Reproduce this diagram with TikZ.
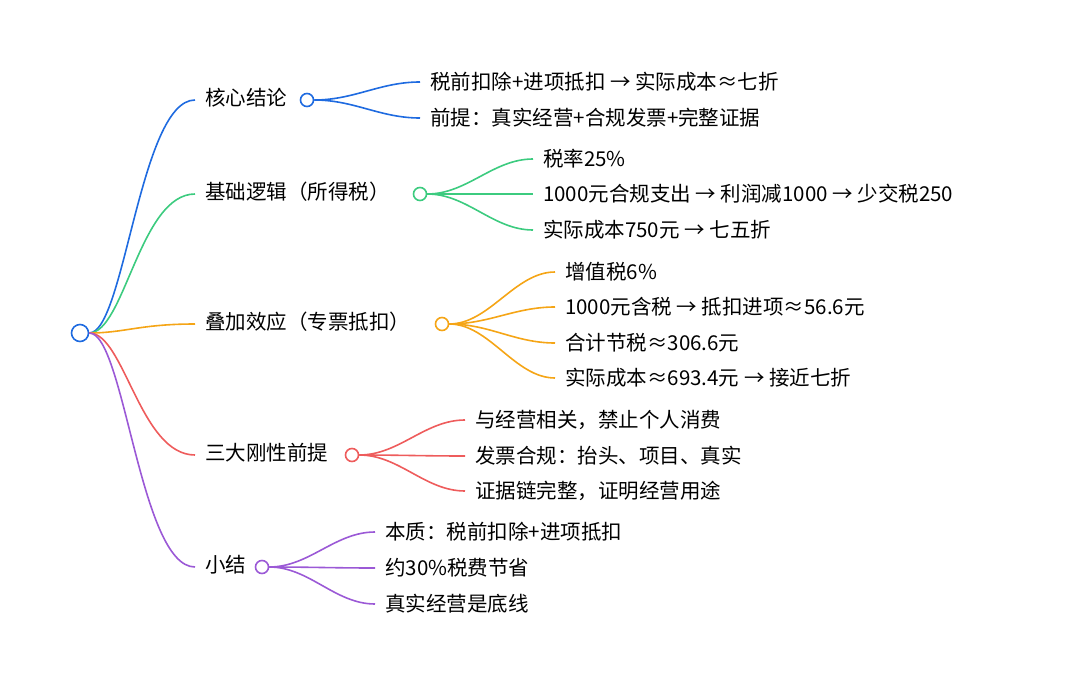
\documentclass[tikz,border=0pt]{standalone}
\usepackage{fontspec}
\setmainfont{Noto Sans CJK SC}
\usetikzlibrary{positioning}
\definecolor{cblue}{HTML}{1F6BE0}
\definecolor{cgreen}{HTML}{3CCB7F}
\definecolor{corange}{HTML}{F5A516}
\definecolor{cred}{HTML}{EE5C5C}
\definecolor{cpurple}{HTML}{9B59D6}
\begin{document}
\begin{tikzpicture}[
    x=1pt, y=-1pt,
    every node/.style={font=\fontsize{20.5}{24}\selectfont},
    dot/.style={circle, draw, line width=1.6pt, fill=white, minimum size=#1, inner sep=0pt},
    topic/.style={anchor=west, inner sep=0pt, text height=15pt, text depth=4pt},
    leaf/.style={anchor=west, inner xsep=10pt, inner ysep=0pt},
    link/.style={line width=1.6pt, #1}
]
\useasboundingbox (0,0) rectangle (1080,685);

% Root
\node[dot=17pt, draw=cblue] (root) at (80,333) {};

% Branches
\node[topic] (b1) at (205,100) {核心结论};
\node[topic] (b2) at (205,194) {基础逻辑（所得税）};
\node[topic] (b3) at (205,324) {叠加效应（专票抵扣）};
\node[topic] (b4) at (205,455) {三大刚性前提};
\node[topic] (b5) at (205,567) {小结};

\node[dot=13pt, draw=cblue] (d1) at (307,100) {};
\node[dot=13pt, draw=cgreen] (d2) at (420,194) {};
\node[dot=13pt, draw=corange] (d3) at (442,324) {};
\node[dot=13pt, draw=cred] (d4) at (352,455) {};
\node[dot=13pt, draw=cpurple] (d5) at (262,567) {};

\foreach \b/\c in {1/cblue, 2/cgreen, 3/corange, 4/cred, 5/cpurple}
    \draw[link=\c] (root.east) .. controls +(35,0) and +(-55,0) .. ([xshift=-10pt]b\b.west);

% Leaves
\node[leaf] (l11) at (420,82) {税前扣除+进项抵扣 → 实际成本≈七折};
\node[leaf] (l12) at (420,118) {前提：真实经营+合规发票+完整证据};

\node[leaf] (l21) at (533,159) {税率25\%};
\node[leaf] (l22) at (533,194) {1000元合规支出 → 利润减1000 → 少交税250};
\node[leaf] (l23) at (533,230) {实际成本750元 → 七五折};

\node[leaf] (l31) at (555,272) {增值税6\%};
\node[leaf] (l32) at (555,307) {1000元含税 → 抵扣进项≈56.6元};
\node[leaf] (l33) at (555,343) {合计节税≈306.6元};
\node[leaf] (l34) at (555,378) {实际成本≈693.4元 → 接近七折};

\node[leaf] (l41) at (465,420) {与经营相关，禁止个人消费};
\node[leaf] (l42) at (465,456) {发票合规：抬头、项目、真实};
\node[leaf] (l43) at (465,491) {证据链完整，证明经营用途};

\node[leaf] (l51) at (375,532) {本质：税前扣除+进项抵扣};
\node[leaf] (l52) at (375,568) {约30\%税费节省};
\node[leaf] (l53) at (375,604) {真实经营是底线};

\foreach \b/\c/\n in {1/cblue/2, 2/cgreen/3, 3/corange/4, 4/cred/3, 5/cpurple/3}
    \foreach \i in {1,...,\n}
        \draw[link=\c] (d\b.east) .. controls +(40,0) and +(-40,0) .. (l\b\i.west);

\end{tikzpicture}
\end{document}
